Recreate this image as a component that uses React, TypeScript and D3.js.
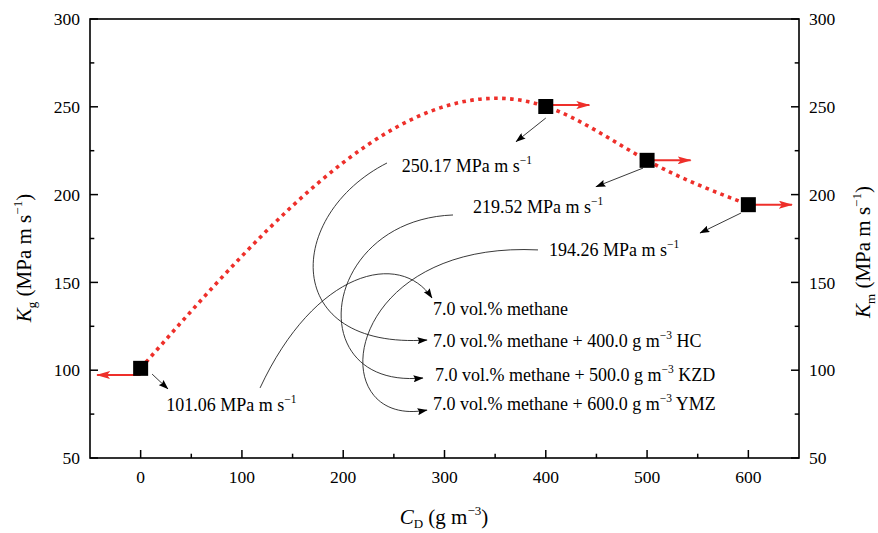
import React from "react";
import * as d3 from "d3";

// ---- data ----
const concentrations = [0, 400, 500, 600];
const kValues = [101.06, 250.17, 219.52, 194.26];
const valueLabels = ["101.06", "250.17", "219.52", "194.26"];
const arrowDirs = [-1, 1, 1, 1];
const arrowYOffset = [-3.8, 0.8, 0, 0];
const xTicks = [0, 100, 200, 300, 400, 500, 600];
const xMinor = [50, 150, 250, 350, 450, 550];
const yTicks = [50, 100, 150, 200, 250, 300];
const yMinor = [75, 125, 175, 225, 275];

// value-label positions (data units, baseline-left)
const valueLabelPos: [number, number][] = [
  [25.2, 76.8],
  [257.8, 212.9],
  [328.2, 189.5],
  [403.2, 165.2],
];
// short pointer arrows from point to label (data units)
const pointerFrom: [number, number][] = [
  [11.3, 97.8],
  [400, 243.6],
  [496, 215.1],
  [592.7, 189.5],
];
const pointerTo: [number, number][] = [
  [27, 89.3],
  [370.6, 230.1],
  [449.5, 204.5],
  [552.2, 178.1],
];

// condition labels
const conditionBase = "7.0 vol.% methane";
const additives = ["", "400.0", "500.0", "600.0"];
const dusts = ["", "HC", "KZD", "YMZ"];
const conditionPos: [number, number][] = [
  [288.7, 131.4],
  [288.7, 113.2],
  [290.6, 94.1],
  [288.7, 77.3],
];
// connector curves (cubic bezier control points, data units)
const connectorCurves: [number, number][][] = [
  [[117.9, 89.9], [172.2, 157.1], [256.1, 168.5], [287.7, 141.1]],
  [[243.2, 218.0], [142.5, 188.4], [137.6, 111.5], [282.8, 117.2]],
  [[308.4, 188.4], [177.1, 185.5], [157.4, 88.7], [278.8, 95.6]],
  [[392.3, 168.5], [196.8, 174.1], [177.1, 65.9], [282.8, 77.3]],
];

const W = 878;
const H = 533;
const RED = "#ee2f2a";
const FONT = "Liberation Serif";

// natural cubic spline y(x) drawn as bezier segments
function curveNaturalX(context: any) {
  let xs: number[] = [];
  let ys: number[] = [];
  return {
    areaStart() {},
    areaEnd() {},
    lineStart() {
      xs = [];
      ys = [];
    },
    point(x: number, y: number) {
      xs.push(+x);
      ys.push(+y);
    },
    lineEnd() {
      const n = xs.length;
      if (!n) return;
      context.moveTo(xs[0], ys[0]);
      if (n === 1) return;
      if (n === 2) {
        context.lineTo(xs[1], ys[1]);
        return;
      }
      const h: number[] = [];
      for (let i = 0; i < n - 1; i++) h.push(xs[i + 1] - xs[i]);
      const a: number[] = [], b: number[] = [], c: number[] = [], d: number[] = [];
      for (let i = 1; i < n - 1; i++) {
        a.push(h[i - 1]);
        b.push(2 * (h[i - 1] + h[i]));
        c.push(h[i]);
        d.push(6 * ((ys[i + 1] - ys[i]) / h[i] - (ys[i] - ys[i - 1]) / h[i - 1]));
      }
      const m = b.length;
      for (let i = 1; i < m; i++) {
        const w = a[i] / b[i - 1];
        b[i] -= w * c[i - 1];
        d[i] -= w * d[i - 1];
      }
      const sol = new Array(m).fill(0);
      sol[m - 1] = d[m - 1] / b[m - 1];
      for (let i = m - 2; i >= 0; i--) sol[i] = (d[i] - c[i] * sol[i + 1]) / b[i];
      const M = new Array(n).fill(0);
      for (let i = 0; i < m; i++) M[i + 1] = sol[i];
      for (let i = 0; i < n - 1; i++) {
        const hi = h[i];
        const dy = (ys[i + 1] - ys[i]) / hi;
        const sL = dy - (hi * (2 * M[i] + M[i + 1])) / 6;
        const sR = dy + (hi * (M[i] + 2 * M[i + 1])) / 6;
        context.bezierCurveTo(
          xs[i] + hi / 3,
          ys[i] + (sL * hi) / 3,
          xs[i + 1] - hi / 3,
          ys[i + 1] - (sR * hi) / 3,
          xs[i + 1],
          ys[i + 1]
        );
      }
    },
  };
}

export default function App() {
  const x = d3.scaleLinear().domain([-50, 650]).range([90, 799]);
  const y = d3.scaleLinear().domain([50, 300]).range([458, 19]);
  const pts = concentrations.map((c, i) => [c, kValues[i]] as [number, number]);

  const linePath = d3
    .line<[number, number]>()
    .x((d) => x(d[0]))
    .y((d) => y(d[1]))
    .curve(curveNaturalX as any)(pts) as string;

  const connectorPath = (cp: [number, number][]) => {
    const p = d3.path();
    p.moveTo(x(cp[0][0]), y(cp[0][1]));
    p.bezierCurveTo(x(cp[1][0]), y(cp[1][1]), x(cp[2][0]), y(cp[2][1]), x(cp[3][0]), y(cp[3][1]));
    return p.toString();
  };

  const arrowLen = 43;
  const x0 = x.range()[0];
  const x1 = x.range()[1];
  const y0 = y.range()[0];
  const y1 = y.range()[1];
  const MAJ = 8;
  const MIN = 4.3;
  const tickFs = 17.5;
  const titleFs = 21;
  const labelFs = 18;
  const supFs = 11.5;

  return (
    <svg
      width={W}
      height={H}
      style={{ position: "absolute", left: 0, top: 0, background: "#fff", fontFamily: FONT }}
    >
      <defs>
        <marker
          id="redHead"
          viewBox="0 0 14 8"
          refX="13"
          refY="4"
          markerWidth="14"
          markerHeight="8"
          markerUnits="userSpaceOnUse"
          orient="auto"
        >
          <path d="M0,0 L14,4 L0,8 L3,4 Z" fill={RED} />
        </marker>
        <marker
          id="blackHead"
          viewBox="0 0 10 7"
          refX="9.5"
          refY="3.5"
          markerWidth="10"
          markerHeight="7"
          markerUnits="userSpaceOnUse"
          orient="auto"
        >
          <path d="M0,0 L10,3.5 L0,7 L1.5,3.5 Z" fill="#000" />
        </marker>
      </defs>

      {/* frame */}
      <rect x={x0} y={y1} width={x1 - x0} height={y0 - y1} fill="none" stroke="#000" strokeWidth={1.6} />

      {/* x ticks */}
      {xTicks.map((t) => (
        <g key={"xt" + t}>
          <line x1={x(t)} x2={x(t)} y1={y0} y2={y0 - MAJ} stroke="#000" strokeWidth={1.5} />
          <text x={x(t)} y={483} fontSize={tickFs} textAnchor="middle">
            {t}
          </text>
        </g>
      ))}
      {xMinor.map((t) => (
        <line key={"xm" + t} x1={x(t)} x2={x(t)} y1={y0} y2={y0 - MIN} stroke="#000" strokeWidth={1.5} />
      ))}

      {/* y ticks left and right */}
      {yTicks.map((t) => (
        <g key={"yt" + t}>
          <line x1={x0} x2={x0 + MAJ} y1={y(t)} y2={y(t)} stroke="#000" strokeWidth={1.5} />
          <line x1={x1} x2={x1 - MAJ} y1={y(t)} y2={y(t)} stroke="#000" strokeWidth={1.5} />
          <text x={80} y={y(t)} dy="0.35em" fontSize={tickFs} textAnchor="end">
            {t}
          </text>
          <text x={809} y={y(t)} dy="0.35em" fontSize={tickFs} textAnchor="start">
            {t}
          </text>
        </g>
      ))}
      {yMinor.map((t) => (
        <g key={"ym" + t}>
          <line x1={x0} x2={x0 + MIN} y1={y(t)} y2={y(t)} stroke="#000" strokeWidth={1.5} />
          <line x1={x1} x2={x1 - MIN} y1={y(t)} y2={y(t)} stroke="#000" strokeWidth={1.5} />
        </g>
      ))}

      {/* axis titles */}
      <text transform="translate(31,258) rotate(-90)" fontSize={titleFs} textAnchor="middle">
        <tspan fontStyle="italic">K</tspan>
        <tspan fontSize={13} dy={5}>g</tspan>
        <tspan dy={-5}> (MPa m s</tspan>
        <tspan fontSize={13} dy={-9}>−1</tspan>
        <tspan dy={9}>)</tspan>
      </text>
      <text transform="translate(870,252) rotate(-90)" fontSize={titleFs} textAnchor="middle">
        <tspan fontStyle="italic">K</tspan>
        <tspan fontSize={13} dy={5}>m</tspan>
        <tspan dy={-5}> (MPa m s</tspan>
        <tspan fontSize={13} dy={-9}>−1</tspan>
        <tspan dy={9}>)</tspan>
      </text>
      <text x={444} y={524} fontSize={titleFs} textAnchor="middle">
        <tspan fontStyle="italic">C</tspan>
        <tspan fontSize={13} dy={4}>D</tspan>
        <tspan dy={-4}> (g m</tspan>
        <tspan fontSize={13} dy={-9}>−3</tspan>
        <tspan dy={9}>)</tspan>
      </text>

      {/* connector curves */}
      {connectorCurves.map((cp, i) => (
        <path
          key={"cc" + i}
          d={connectorPath(cp)}
          fill="none"
          stroke="#222"
          strokeWidth={0.9}
          markerEnd="url(#blackHead)"
        />
      ))}

      {/* pointer arrows */}
      {pointerFrom.map((p, i) => (
        <line
          key={"pa" + i}
          x1={x(p[0])}
          y1={y(p[1])}
          x2={x(pointerTo[i][0])}
          y2={y(pointerTo[i][1])}
          stroke="#222"
          strokeWidth={0.9}
          markerEnd="url(#blackHead)"
        />
      ))}

      {/* red dotted spline */}
      <path d={linePath} fill="none" stroke={RED} strokeWidth={3.6} strokeDasharray="3.6 4.4" />

      {/* red arrows */}
      {pts.map((p, i) => (
        <line
          key={"ra" + i}
          x1={x(p[0])}
          y1={y(p[1] + arrowYOffset[i])}
          x2={x(p[0] + arrowDirs[i] * arrowLen)}
          y2={y(p[1] + arrowYOffset[i])}
          stroke={RED}
          strokeWidth={2}
          markerEnd="url(#redHead)"
        />
      ))}

      {/* square markers */}
      {pts.map((p, i) => (
        <rect key={"sq" + i} x={x(p[0]) - 7.5} y={y(p[1]) - 7.5} width={15} height={15} fill="#000" />
      ))}

      {/* value labels */}
      {valueLabels.map((v, i) => (
        <text key={"vl" + i} x={x(valueLabelPos[i][0])} y={y(valueLabelPos[i][1])} fontSize={labelFs}>
          {v} MPa m s
          <tspan fontSize={supFs} dy={-8}>−1</tspan>
        </text>
      ))}

      {/* condition labels */}
      {additives.map((a, i) => (
        <text key={"cl" + i} x={x(conditionPos[i][0])} y={y(conditionPos[i][1])} fontSize={labelFs}>
          {a ? (
            <>
              {conditionBase + " + " + a + " g m"}
              <tspan fontSize={supFs} dy={-8}>−3</tspan>
              <tspan dy={8}>{" " + dusts[i]}</tspan>
            </>
          ) : (
            conditionBase
          )}
        </text>
      ))}
    </svg>
  );
}
